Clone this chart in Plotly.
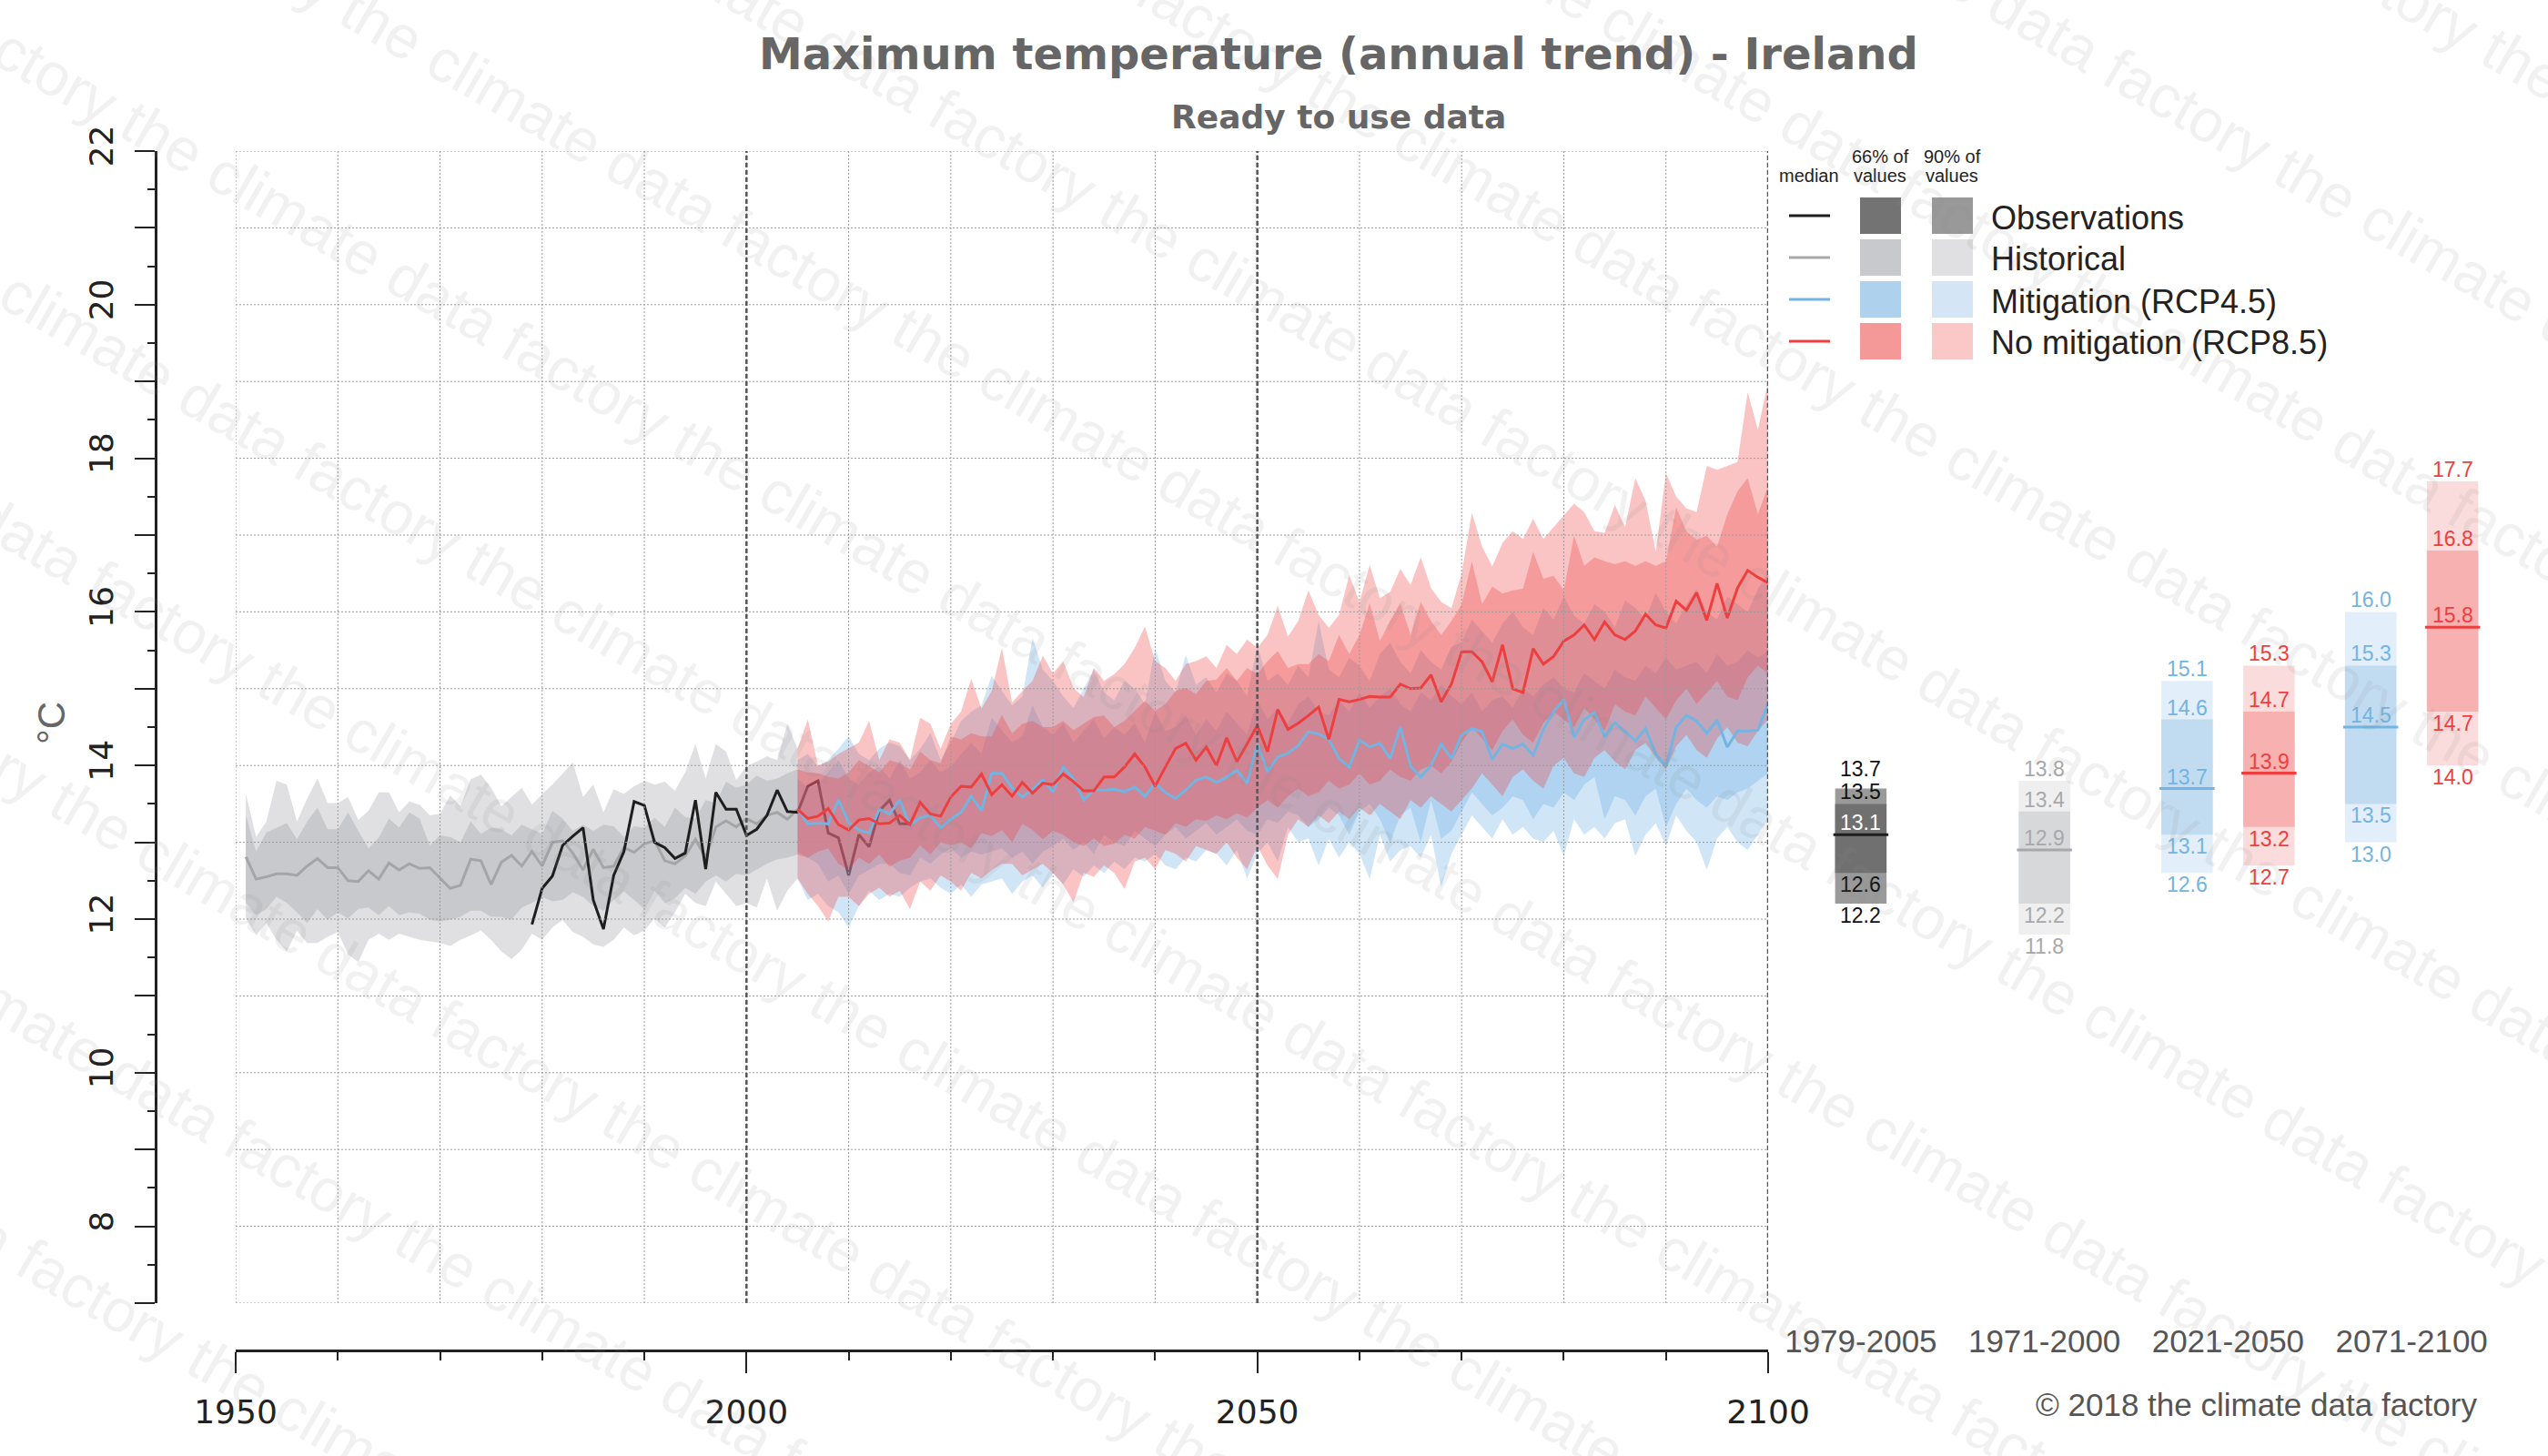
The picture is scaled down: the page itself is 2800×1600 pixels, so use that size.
import plotly.graph_objects as go

# ----------------------------------------------------------------- data
HIST_YEARS = list(range(1951, 2006))
HIST_MED = [12.81, 12.52, 12.55, 12.59, 12.59, 12.57, 12.69, 12.79, 12.67, 12.67,
            12.50, 12.49, 12.63, 12.52, 12.73, 12.64, 12.72, 12.66, 12.67, 12.53,
            12.40, 12.44, 12.78, 12.76, 12.45, 12.74, 12.83, 12.69, 12.88, 12.69,
            13.00, 13.02, 12.86, 12.64, 12.91, 12.67, 12.69, 12.93, 12.87, 12.98,
            13.02, 12.76, 12.72, 12.82, 13.04, 12.80, 13.20, 13.28, 13.20, 13.31,
            13.24, 13.35, 13.39, 13.30, 13.43]
HIST_U90 = [13.63, 13.07, 13.27, 13.80, 13.75, 13.27, 13.57, 13.83, 13.51, 13.51,
            13.59, 13.29, 13.41, 13.65, 13.65, 13.39, 13.53, 13.49, 13.35, 13.37,
            13.61, 13.47, 13.82, 13.88, 13.71, 13.47, 13.59, 13.71, 13.49, 13.63,
            13.75, 13.90, 14.04, 13.59, 13.75, 13.39, 13.69, 13.63, 13.73, 13.80,
            13.75, 13.79, 13.67, 13.91, 14.28, 13.83, 14.28, 14.18, 13.81, 13.99,
            14.05, 14.12, 14.07, 14.54, 14.22]
HIST_U66 = [13.35, 12.88, 13.13, 13.19, 13.25, 13.04, 13.27, 13.45, 13.17, 13.17,
            13.39, 13.15, 12.92, 13.06, 13.31, 13.19, 13.39, 13.31, 12.96, 13.09,
            13.07, 13.00, 13.27, 13.11, 13.19, 13.17, 13.09, 13.23, 13.17, 13.11,
            13.41, 13.31, 13.15, 13.23, 13.15, 13.23, 13.21, 13.07, 13.21, 13.19,
            13.32, 13.20, 13.45, 13.33, 13.31, 13.55, 13.51, 13.79, 13.71, 13.75,
            13.87, 13.80, 13.83, 13.90, 13.95]
HIST_L66 = [12.21, 12.05, 12.13, 12.29, 12.21, 12.09, 11.95, 12.13, 11.99, 12.09,
            12.01, 12.13, 12.15, 12.05, 12.17, 12.05, 12.09, 12.07, 11.99, 11.97,
            11.99, 12.03, 12.11, 12.11, 12.03, 12.03, 11.99, 12.15, 12.21, 12.29,
            12.23, 12.25, 12.35, 12.29, 12.17, 12.11, 12.25, 12.36, 12.25, 12.13,
            12.37, 12.21, 12.27, 12.41, 12.33, 12.49, 12.57, 12.49, 12.59, 12.57,
            12.64, 12.72, 12.78, 12.80, 12.84]
HIST_L90 = [12.01, 11.79, 11.95, 11.73, 11.58, 11.85, 11.69, 11.69, 11.77, 11.83,
            11.54, 11.44, 11.73, 11.81, 11.73, 11.81, 11.77, 11.73, 11.71, 11.69,
            11.65, 11.73, 11.79, 11.85, 11.73, 11.58, 11.48, 11.60, 11.81, 11.73,
            11.89, 11.99, 11.83, 11.77, 11.67, 11.64, 11.73, 11.89, 11.79, 11.85,
            12.01, 11.89, 12.09, 12.33, 12.21, 12.17, 12.49, 12.33, 12.17, 12.21,
            12.15, 12.53, 12.11, 12.37, 12.53]

OBS_YEARS = list(range(1979, 2017))
OBS_VALUES = [11.93, 12.40, 12.56, 12.96, 13.08, 13.19, 12.25, 11.87, 12.57, 12.88,
              13.53, 13.48, 13.00, 12.93, 12.79, 12.86, 13.55, 12.65, 13.65, 13.43,
              13.43, 13.09, 13.17, 13.35, 13.68, 13.40, 13.39, 13.73, 13.80, 13.12,
              13.06, 12.57, 13.10, 12.94, 13.41, 13.55, 13.24, 13.24]

RCP_YEARS = list(range(2005, 2101))
RCP45_MED = [13.43, 13.24, 13.25, 13.24, 13.55, 13.26, 13.16, 13.12, 13.43, 13.37,
             13.55, 13.22, 13.32, 13.35, 13.19, 13.30, 13.39, 13.60, 13.41, 13.90,
             13.90, 13.71, 13.59, 13.69, 13.81,
             13.66, 13.98, 13.83, 13.55, 13.68, 13.68, 13.69, 13.66, 13.72, 13.60,
             13.77, 13.65, 13.57, 13.68, 13.81, 13.85, 13.78, 13.85, 13.94, 13.77,
             14.28, 13.92, 14.11, 14.16, 14.26, 14.44, 14.41, 14.34, 14.09, 13.98,
             14.33, 14.24, 14.29, 14.09, 14.50, 13.99, 13.85, 14.00, 14.28, 14.09,
             14.40, 14.48, 14.44, 14.08, 14.28, 14.22, 14.28, 14.13, 14.47, 14.70,
             14.86, 14.37, 14.60, 14.69, 14.37, 14.56, 14.44, 14.32, 14.48, 14.15,
             13.99, 14.50, 14.65, 14.58, 14.42, 14.59, 14.24, 14.45, 14.45, 14.46,
             14.81]
RCP45_U90 = [14.07, 14.15, 13.99, 14.07, 14.22, 14.38, 14.15, 14.07, 14.22, 14.30,
             14.25, 14.07, 14.22, 14.42, 14.07, 14.30, 14.58, 14.70, 14.78, 15.17,
             14.97, 14.78, 14.90, 15.66, 15.25,
             15.10, 14.90, 14.75, 15.00, 15.25, 14.95, 14.85, 15.10, 15.00, 14.80,
             15.53, 15.10, 14.95, 15.44, 15.05, 15.15, 14.95, 15.20, 15.10, 14.90,
             15.57, 15.10, 15.20, 15.05, 15.30, 15.15, 15.88, 15.25, 15.15, 15.40,
             15.30, 15.10, 15.45, 15.60, 15.35, 15.20, 15.50, 15.35, 15.25, 15.55,
             15.60, 15.90, 15.75, 15.60, 15.85, 16.00, 15.80, 15.70, 16.05, 15.90,
             16.20, 15.95, 15.85, 16.10, 16.00, 15.80, 16.15, 16.05, 15.90, 16.25,
             16.00, 15.85, 16.10, 16.30, 16.00, 15.90, 16.20, 16.10, 16.00, 16.30,
             16.50]
RCP45_U66 = [13.83, 13.71, 13.75, 13.91, 14.07, 13.83, 13.75, 13.91, 13.99, 13.83,
             14.07, 13.83, 13.91, 14.07, 13.91, 13.99, 14.15, 14.30, 14.15, 14.62,
             14.46, 14.30, 14.38, 14.78, 14.50,
             14.40, 14.55, 14.30, 14.45, 14.60, 14.35, 14.50, 14.40, 14.55, 14.30,
             14.70, 14.45, 14.50, 14.65, 14.40, 14.60, 14.45, 14.70, 14.55, 14.40,
             14.85, 14.60, 14.75, 14.55, 14.80, 14.90, 14.70, 14.65, 14.85, 14.70,
             14.95, 14.75, 14.90, 15.00, 14.80, 14.70, 14.95, 14.85, 15.05, 14.90,
             14.80, 14.95, 14.70, 14.85, 14.90, 14.75, 15.00, 14.90, 15.05, 15.15,
             15.00, 14.95, 15.20, 15.10, 15.00, 15.25, 15.15, 15.10, 15.30, 15.20,
             15.40, 15.25, 15.30, 15.35, 15.20, 15.45, 15.30, 15.35, 15.50, 15.40,
             15.50]
RCP45_L66 = [12.88, 12.80, 12.72, 12.49, 12.57, 12.33, 12.57, 12.64, 12.72, 12.72,
             12.60, 12.57, 12.80, 12.72, 12.84, 12.92, 12.80, 12.88, 12.84, 12.88,
             12.92, 12.80, 12.88, 12.72, 12.88,
             12.95, 13.05, 12.90, 13.00, 12.85, 13.10, 13.00, 12.95, 13.15, 13.05,
             12.95, 13.10, 13.20, 13.05, 13.15, 13.25, 13.10, 13.20, 13.30, 13.15,
             13.10, 13.30, 13.25, 13.40, 13.35, 13.20, 13.30, 13.45, 13.35, 13.10,
             13.40, 13.50, 13.30, 13.00, 13.35, 13.45, 13.00, 13.55, 13.05, 13.15,
             13.40, 13.65, 13.50, 13.35, 13.45, 13.60, 13.55, 13.30, 13.50, 13.45,
             13.65, 13.55, 13.75, 13.85, 13.30, 13.60, 13.55, 13.35, 13.60, 13.70,
             13.20, 13.50, 13.70, 13.55, 13.45, 13.60, 13.55, 13.65, 13.70, 13.80,
             13.90]
RCP45_L90 = [12.53, 12.25, 12.33, 12.17, 12.09, 11.89, 12.17, 12.37, 12.25, 12.33,
             12.29, 12.41, 12.49, 12.53, 12.41, 12.33, 12.45, 12.29, 12.45, 12.49,
             12.53, 12.33, 12.49, 12.57, 12.41,
             12.60, 12.45, 12.65, 12.55, 12.70, 12.60, 12.75, 12.65, 12.80, 12.75,
             12.85, 12.70, 12.65, 12.80, 12.75, 12.90, 12.85, 12.70, 12.90, 12.53,
             12.85, 13.00, 12.75, 13.20, 13.00, 13.05, 12.70, 13.05, 12.80, 13.00,
             12.85, 12.52, 13.10, 12.75, 12.90, 12.95, 12.80, 13.10, 12.42, 12.85,
             13.10, 13.35, 13.20, 13.05, 13.30, 13.10, 13.20, 13.05, 13.00, 13.15,
             12.82, 13.30, 13.10, 13.20, 13.05, 13.25, 13.30, 12.82, 13.10, 13.25,
             12.95, 13.35, 13.15, 13.00, 12.64, 13.05, 13.20, 13.00, 12.90, 13.10,
             13.30]

RCP85_MED = [13.43, 13.31, 13.34, 13.44, 13.23, 13.16, 13.29, 13.31, 13.24, 13.25,
             13.35, 13.23, 13.52, 13.37, 13.34, 13.59, 13.73, 13.72, 13.89, 13.62,
             13.75, 13.60, 13.78, 13.64, 13.77,
             13.75, 13.89, 13.79, 13.67, 13.67, 13.85, 13.85, 13.98, 14.15, 13.98,
             13.73, 13.98, 14.22, 14.29, 14.07, 14.24, 14.00, 14.36, 14.05, 14.28,
             14.52, 14.18, 14.73, 14.47, 14.55, 14.65, 14.76, 14.34, 14.86, 14.83,
             14.86, 14.90, 14.89, 14.89, 15.06, 15.00, 15.01, 15.18, 14.83, 15.06,
             15.48, 15.48, 15.35, 15.09, 15.57, 15.00, 14.95, 15.52, 15.32, 15.42,
             15.62, 15.70, 15.83, 15.64, 15.87, 15.70, 15.64, 15.75, 15.97, 15.83,
             15.79, 16.14, 16.02, 16.25, 15.89, 16.37, 15.92, 16.31, 16.54, 16.45,
             16.38]
RCP85_U90 = [14.22, 14.60, 14.00, 14.05, 14.15, 14.22, 14.30, 14.58, 14.07, 14.34,
             14.30, 14.07, 14.62, 14.54, 14.22, 14.54, 14.70, 15.13, 14.74, 14.97,
             15.53, 14.82, 14.97, 15.10, 15.43,
             15.20, 15.36, 15.01, 14.89, 15.27, 15.10, 15.19, 15.32, 15.53, 15.81,
             15.36, 15.27, 15.10, 15.32, 15.36, 15.42, 15.27, 15.57, 15.45, 15.64,
             15.53, 15.70, 16.08, 15.68, 15.88, 16.28, 15.96, 15.79, 15.96, 16.48,
             16.13, 16.61, 16.18, 16.26, 16.56, 16.35, 16.71, 16.31, 16.13, 16.05,
             16.50, 17.29, 16.85, 16.59, 16.90, 17.05, 16.95, 17.21, 16.95, 17.10,
             17.25, 17.41, 17.30, 17.05, 17.03, 17.39, 17.10, 17.74, 17.45, 16.78,
             17.81, 17.50, 17.35, 17.30, 17.90, 17.85, 17.90, 17.95, 18.86, 18.37,
             19.00]
RCP85_U66 = [13.95, 13.91, 13.90, 13.85, 13.83, 13.91, 14.07, 13.99, 13.91, 14.07,
             14.03, 13.95, 14.18, 14.07, 14.03, 14.38, 14.34, 14.42, 14.38, 14.38,
             14.66, 14.42, 14.54, 14.58, 14.50,
             14.50, 14.58, 14.46, 14.54, 14.63, 14.65, 14.50, 14.58, 14.71, 14.84,
             14.71, 14.80, 14.97, 15.01, 14.93, 15.10, 15.12, 15.27, 15.10, 15.27,
             15.19, 15.36, 15.49, 15.27, 15.32, 15.32, 15.45, 15.36, 15.70, 15.45,
             15.70, 16.11, 15.62, 15.88, 16.11, 15.70, 16.13, 15.88, 15.70, 15.88,
             16.10, 16.66, 16.10, 16.33, 16.24, 16.28, 16.30, 16.78, 16.43, 16.47,
             16.28, 16.99, 16.60, 16.71, 16.66, 16.62, 16.66, 16.60, 16.66, 16.60,
             16.66, 17.36, 17.05, 16.94, 16.99, 16.85, 17.27, 17.57, 17.74, 17.27,
             17.64]
RCP85_L66 = [12.84, 12.80, 12.88, 12.92, 12.72, 12.64, 12.80, 12.72, 12.84, 12.68,
             12.76, 12.80, 12.96, 12.84, 13.00, 12.96, 13.00, 12.92, 13.12, 13.08,
             13.16, 13.00, 13.24, 13.16, 13.04,
             13.15, 13.10, 13.00, 12.95, 13.05, 12.95, 12.98, 13.10, 13.05, 13.20,
             13.15, 13.10, 13.25, 13.20, 13.30, 13.28, 13.35, 13.30, 13.38, 13.32,
             13.45, 13.55, 13.45, 13.60, 13.70, 13.60, 13.65, 13.80, 13.70, 13.75,
             13.90, 13.75, 13.80, 13.95, 13.85, 13.80, 13.95, 14.00, 13.90, 14.05,
             14.30, 14.50, 14.35, 14.20, 14.45, 14.60, 14.40, 14.30, 14.55, 14.70,
             14.60, 14.50, 14.75, 14.60, 14.45, 14.80, 14.70, 14.65, 14.90, 14.75,
             14.60, 14.85, 15.00, 14.80, 14.95, 15.10, 14.90, 14.85, 15.15, 15.30,
             15.20]
RCP85_L90 = [12.53, 12.33, 12.17, 11.97, 12.29, 12.29, 12.17, 12.33, 12.41, 12.29,
             12.37, 12.13, 12.49, 12.37, 12.57, 12.49, 12.37, 12.60, 12.53, 12.64,
             12.72, 12.72, 12.57, 12.64, 12.72,
             12.60, 12.45, 12.22, 12.60, 12.55, 12.70, 12.60, 12.39, 12.75, 12.80,
             12.65, 12.90, 12.85, 12.75, 12.95, 12.90, 12.85, 13.00, 12.80, 12.65,
             12.95, 12.70, 12.52, 13.10, 13.30, 13.20, 13.35, 13.25, 13.40, 13.30,
             13.45, 13.35, 13.50, 13.40, 13.30, 13.55, 13.45, 13.60, 13.50, 13.40,
             13.55, 13.70, 13.90, 13.75, 13.60, 13.85, 13.95, 13.80, 13.70, 14.00,
             14.10, 13.90, 13.85, 14.10, 14.20, 14.05, 13.95, 14.20, 14.30, 14.10,
             13.95, 14.25, 14.40, 14.20, 14.10, 14.35, 14.50, 14.30, 14.25, 14.45,
             14.60]

PERIODS = ["1979-2005", "1971-2000", "2021-2050", "2071-2100"]
# order: 90% low, 66% low, median, 66% high, 90% high
BOX_OBS = [12.2, 12.6, 13.1, 13.5, 13.7]
BOX_HIST = [11.8, 12.2, 12.9, 13.4, 13.8]
BOX_RCP45_2050 = [12.6, 13.1, 13.7, 14.6, 15.1]
BOX_RCP85_2050 = [12.7, 13.2, 13.9, 14.7, 15.3]
BOX_RCP45_2100 = [13.0, 13.5, 14.5, 15.3, 16.0]
BOX_RCP85_2100 = [14.0, 14.7, 15.8, 16.8, 17.7]

LEGEND_LABELS = ["Observations", "Historical", "Mitigation (RCP4.5)", "No mitigation (RCP8.5)"]

for arr in (HIST_MED, HIST_U90, HIST_U66, HIST_L66, HIST_L90):
    assert len(arr) == len(HIST_YEARS)
for arr in (RCP45_MED, RCP45_U90, RCP45_U66, RCP45_L66, RCP45_L90,
            RCP85_MED, RCP85_U90, RCP85_U66, RCP85_L66, RCP85_L90):
    assert len(arr) == len(RCP_YEARS), len(arr)
assert len(OBS_VALUES) == len(OBS_YEARS)

# ----------------------------------------------------------------- styling
W, H = 2800, 1600


def fx(px):
    return px / W


def fy(py):
    return 1 - py / H


PLOT_L, PLOT_R, PLOT_T, PLOT_B = 259, 1943, 166, 1432
YAXIS_X = 171
XAXIS_Y = 1484
BOX_L, BOX_R = 1944, 2751
PERIOD_AXIS_Y = 1450
Y_MIN, Y_MAX = 7, 22
PX_PER_DEG = (PLOT_B - PLOT_T) / (Y_MAX - Y_MIN)

SANS = "Liberation Sans, Arial, sans-serif"
DEJAVU = "DejaVu Sans, sans-serif"

HIST90_FILL = "#e0e0e2"
HIST66_FILL = "#c8c9cc"
BLUE_FILL = "rgba(100,170,225,0.30)"
RED_FILL = "rgba(240,60,60,0.30)"
OBS_COL = "#1e1e1e"
HIST_COL = "#a5a5a8"
BLUE_COL = "#72b4e2"
RED_COL = "#ef3e3e"

fig = go.Figure()


def add_band(x, lo, hi, color):
    fig.add_trace(go.Scatter(
        x=list(x) + list(x)[::-1], y=list(hi) + list(lo)[::-1],
        fill="toself", fillcolor=color, line=dict(width=0), mode="lines",
        hoverinfo="skip", showlegend=False, xaxis="x", yaxis="y"))


def add_line(x, y, color, width=3):
    fig.add_trace(go.Scatter(x=x, y=y, mode="lines",
                             line=dict(color=color, width=width),
                             hoverinfo="skip", showlegend=False,
                             xaxis="x", yaxis="y"))


add_band(HIST_YEARS, HIST_L90, HIST_U90, HIST90_FILL)
add_band(HIST_YEARS, HIST_L66, HIST_U66, HIST66_FILL)
add_line(HIST_YEARS, HIST_MED, HIST_COL)
add_line(OBS_YEARS, OBS_VALUES, OBS_COL)
add_band(RCP_YEARS, RCP45_L90, RCP45_U90, BLUE_FILL)
add_band(RCP_YEARS, RCP45_L66, RCP45_U66, BLUE_FILL)
add_band(RCP_YEARS, RCP85_L90, RCP85_U90, RED_FILL)
add_band(RCP_YEARS, RCP85_L66, RCP85_U66, RED_FILL)
add_line(RCP_YEARS, RCP45_MED, BLUE_COL)
add_line(RCP_YEARS, RCP85_MED, RED_COL)

annotations = []

# ---------------- boxes on the right
BOX_W = 0.28
PAIR = 0.223
MED_W = 0.30
MED_H = 0.036
LABEL_OFF = 13
LABEL_GAP = 25
boxes = [
    dict(pos=PERIODS.index("1979-2005"), vals=BOX_OBS, c90="#9a9a9a", c66="#707070",
         cmed=OBS_COL, ctxt="#111111", cmedtxt="#ffffff"),
    dict(pos=PERIODS.index("1971-2000"), vals=BOX_HIST, c90="#efeff0", c66="#d7d8da",
         cmed="#a8a8aa", ctxt="#a8a8aa", cmedtxt="#a8a8aa"),
    dict(pos=PERIODS.index("2021-2050") - PAIR, vals=BOX_RCP45_2050, c90="#e2eef9",
         c66="#c1dcf1", cmed=BLUE_COL, ctxt=BLUE_COL, cmedtxt=BLUE_COL),
    dict(pos=PERIODS.index("2021-2050") + PAIR, vals=BOX_RCP85_2050, c90="#fbdcdc",
         c66="#f7b1b1", cmed=RED_COL, ctxt=RED_COL, cmedtxt=RED_COL),
    dict(pos=PERIODS.index("2071-2100") - PAIR, vals=BOX_RCP45_2100, c90="#e2eef9",
         c66="#c1dcf1", cmed=BLUE_COL, ctxt=BLUE_COL, cmedtxt=BLUE_COL),
    dict(pos=PERIODS.index("2071-2100") + PAIR, vals=BOX_RCP85_2100, c90="#fbdcdc",
         c66="#f7b1b1", cmed=RED_COL, ctxt=RED_COL, cmedtxt=RED_COL),
]
for b in boxes:
    l90, l66, med, u66, u90 = b["vals"]
    fig.add_trace(go.Bar(x=[b["pos"]], y=[u90 - l90], base=[l90], width=[BOX_W],
                         marker=dict(color=b["c90"], line=dict(width=0)),
                         hoverinfo="skip", showlegend=False, xaxis="x2", yaxis="y2"))
    fig.add_trace(go.Bar(x=[b["pos"]], y=[u66 - l66], base=[l66], width=[BOX_W],
                         marker=dict(color=b["c66"], line=dict(width=0)),
                         hoverinfo="skip", showlegend=False, xaxis="x2", yaxis="y2"))
    fig.add_trace(go.Bar(x=[b["pos"]], y=[MED_H], base=[med - MED_H / 2], width=[MED_W],
                         marker=dict(color=b["cmed"], line=dict(width=0)),
                         hoverinfo="skip", showlegend=False, xaxis="x2", yaxis="y2"))
    # label offsets in pixels, pushing apart labels that would collide
    shifts = [-LABEL_OFF, -LABEL_OFF, LABEL_OFF, LABEL_OFF, LABEL_OFF]
    d_top = (u90 - u66) * PX_PER_DEG
    if d_top < LABEL_GAP:
        shifts[4] += LABEL_GAP - d_top
    d_bot = (l66 - l90) * PX_PER_DEG
    if d_bot < LABEL_GAP:
        shifts[0] -= LABEL_GAP - d_bot
    colors = [b["ctxt"], b["ctxt"], b["cmedtxt"], b["ctxt"], b["ctxt"]]
    for v, s, col in zip(b["vals"], shifts, colors):
        annotations.append(dict(x=b["pos"], y=v, xref="x2", yref="y2", text=f"{v:.1f}",
                                yshift=s, showarrow=False, xanchor="center",
                                yanchor="middle",
                                font=dict(family=SANS, size=23, color=col)))

# ---------------- grid lines (drawn above the bands, as in the original)
shapes = []
GRID = dict(color="#9a9a9a", width=1, dash="2px,2px")
for v in range(Y_MIN, Y_MAX + 1):
    shapes.append(dict(type="line", xref="x domain", x0=0, x1=1, yref="y", y0=v, y1=v,
                       line=GRID, layer="above"))
for yr in range(1950, 2101, 10):
    shapes.append(dict(type="line", xref="x", x0=yr, x1=yr, yref="y domain", y0=0, y1=1,
                       line=GRID, layer="above"))
for yr in (2000, 2050, 2100):
    shapes.append(dict(type="line", xref="x", x0=yr, x1=yr, yref="y domain", y0=0, y1=1,
                       line=dict(color="#555555", width=2.5, dash="5px,3px"), layer="above"))

# ---------------- custom legend
LEG_LINE = [OBS_COL, "#a8a8aa", BLUE_COL, RED_COL]
LEG_66 = ["#737373", "#c8c9cc", "#aed1ed", "#f59898"]
LEG_90 = ["#999999", "#e0e0e2", "#d4e6f6", "#fbc8c8"]
for i, lab in enumerate(LEGEND_LABELS):
    yc = 237 + i * 46
    shapes.append(dict(type="line", xref="paper", yref="paper", x0=fx(1966), x1=fx(2011),
                       y0=fy(yc), y1=fy(yc), line=dict(color=LEG_LINE[i], width=3)))
    shapes.append(dict(type="rect", xref="paper", yref="paper", x0=fx(2044), x1=fx(2089),
                       y0=fy(yc + 20), y1=fy(yc - 20), fillcolor=LEG_66[i], line=dict(width=0)))
    shapes.append(dict(type="rect", xref="paper", yref="paper", x0=fx(2123), x1=fx(2168),
                       y0=fy(yc + 20), y1=fy(yc - 20), fillcolor=LEG_90[i], line=dict(width=0)))
    annotations.append(dict(x=fx(2186), y=fy(yc + 2), xref="paper", yref="paper", text=lab,
                            showarrow=False, xanchor="left", yanchor="middle",
                            font=dict(family=SANS, size=36, color="#222222")))
for txt, x, y in [("median", 1988, 193), ("66% of", 2066, 172), ("values", 2066, 193),
                  ("90% of", 2145, 172), ("values", 2145, 193)]:
    annotations.append(dict(x=fx(x), y=fy(y), xref="paper", yref="paper", text=txt,
                            showarrow=False, xanchor="center", yanchor="middle",
                            font=dict(family=SANS, size=20, color="#222222")))

# ---------------- titles and other texts
annotations.append(dict(x=fx(1471), y=fy(59), xref="paper", yref="paper",
                        text="<b>Maximum temperature (annual trend) - Ireland</b>",
                        showarrow=False, xanchor="center", yanchor="middle",
                        font=dict(family=DEJAVU, size=48, color="#666666")))
annotations.append(dict(x=fx(1471), y=fy(129), xref="paper", yref="paper",
                        text="<b>Ready to use data</b>", showarrow=False,
                        xanchor="center", yanchor="middle",
                        font=dict(family=DEJAVU, size=36, color="#666666")))
annotations.append(dict(x=fx(57), y=fy(795), xref="paper", yref="paper", text="°C",
                        textangle=-90, showarrow=False, xanchor="center", yanchor="middle",
                        font=dict(family=SANS, size=42, color="#666666")))
annotations.append(dict(x=fx(2479), y=fy(1543), xref="paper", yref="paper",
                        text="© 2018 the climate data factory", showarrow=False,
                        xanchor="center", yanchor="middle",
                        font=dict(family=SANS, size=35, color="#555555")))

# ---------------- watermark
WM = "the climate data factory"
TAN = 0.577
for k in range(-6, 7):
    c = 48 + 263 * k
    xs = max(0.0, -c / TAN)
    xe = min(float(W), (H - c) / TAN)
    if xe <= xs:
        continue
    cx = (xs + xe) / 2
    cy = c + TAN * cx
    annotations.append(dict(x=fx(cx), y=fy(cy), xref="paper", yref="paper",
                            text=" ".join([WM] * 6), textangle=30, showarrow=False,
                            xanchor="center", yanchor="middle",
                            font=dict(family=SANS, size=66, color="rgba(140,140,140,0.12)")))

fig.update_layout(
    width=W, height=H, margin=dict(l=0, r=0, t=0, b=0, pad=0, autoexpand=False),
    paper_bgcolor="white", plot_bgcolor="white",
    showlegend=False, barmode="overlay",
    xaxis=dict(domain=[fx(PLOT_L), fx(PLOT_R)], range=[1950, 2100],
               anchor="free", position=fy(XAXIS_Y), automargin=False,
               showgrid=False, zeroline=False, showline=True,
               linecolor="#222222", linewidth=3,
               tickmode="array", tickvals=[1950, 2000, 2050, 2100],
               ticks="outside", ticklen=23, tickwidth=2, tickcolor="#222222",
               tickfont=dict(family=DEJAVU, size=36, color="#222222"),
               ticklabelstandoff=12,
               minor=dict(tickmode="linear", tick0=1950, dtick=10, ticks="outside",
                          ticklen=9, tickwidth=2, tickcolor="#222222", showgrid=False)),
    yaxis=dict(domain=[fy(PLOT_B), fy(PLOT_T)], range=[Y_MIN, Y_MAX],
               anchor="free", position=fx(YAXIS_X), automargin=False,
               showgrid=False, zeroline=False, showline=True,
               linecolor="#222222", linewidth=3,
               tickmode="array", tickvals=list(range(Y_MIN, Y_MAX + 1)),
               ticktext=[str(v) if v % 2 == 0 else "" for v in range(Y_MIN, Y_MAX + 1)],
               ticks="outside", ticklen=22, tickwidth=2, tickcolor="#222222",
               tickangle=-90,
               tickfont=dict(family=DEJAVU, size=36, color="#222222"),
               ticklabelstandoff=10,
               minor=dict(tickmode="linear", tick0=Y_MIN, dtick=0.5, ticks="outside",
                          ticklen=8, tickwidth=2, tickcolor="#222222", showgrid=False)),
    xaxis2=dict(domain=[fx(BOX_L), fx(BOX_R)], range=[-0.5, 3.5],
                anchor="free", position=fy(PERIOD_AXIS_Y), automargin=False,
                showgrid=False, zeroline=False, showline=False, ticks="",
                tickmode="array", tickvals=list(range(len(PERIODS))), ticktext=PERIODS,
                tickfont=dict(family=SANS, size=35, color="#555555")),
    yaxis2=dict(domain=[fy(PLOT_B), fy(PLOT_T)], range=[Y_MIN, Y_MAX], anchor="x2",
                visible=False, automargin=False),
    shapes=shapes,
    annotations=annotations,
)

fig.write_html("out.html", config={"displayModeBar": False},
               post_script="document.body.style.margin='0';")
